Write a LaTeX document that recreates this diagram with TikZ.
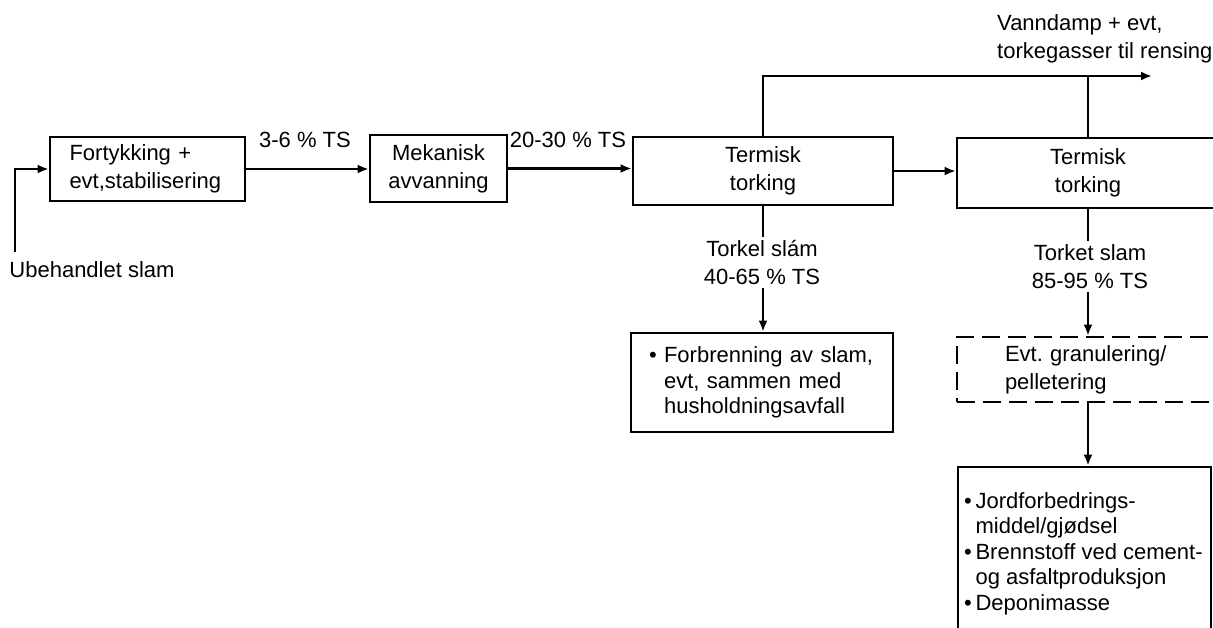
\documentclass[tikz,border=0pt]{standalone}
\usepackage{fontspec}
\setmainfont{Liberation Sans}
\usetikzlibrary{arrows.meta,calc}
\frenchspacing
\newcommand\lblfont{\fontsize{22}{28}\selectfont}
\newcommand\bulletfont{\fontsize{22}{25.5}\selectfont}
\begin{document}
\begin{tikzpicture}[x=1pt,y=-1pt,
  box/.style={draw,line width=2.7pt,inner sep=0pt,align=center,font=\lblfont},
  dbox/.style={box,dash pattern=on 18pt off 8pt},
  txt/.style={font=\lblfont,align=center,inner sep=3pt},
  conn/.style={line width=2.7pt},
  arr/.style={conn,-{Latex[length=11pt,width=9pt]}}]
\useasboundingbox (0,0) rectangle (1213,627);
\clip (0,0) rectangle (1213,627);
% boxes
\node[box,minimum width=195pt,minimum height=64pt,text width=156pt,align=left] (fort) at (147.5,169) {Fortykking +\\evt,stabilisering};
\node[box,minimum width=137pt,minimum height=67pt] (mek) at (438.5,168.5) {Mekanisk\\avvanning};
\node[box,minimum width=260pt,minimum height=68pt] (term1) at (763,171) {Termisk\\torking};
\node[box,minimum width=262pt,minimum height=70pt] (term2) at (1088,173) {Termisk\\torking};
\node[box,minimum width=262pt,minimum height=99pt,text width=226pt,align=left,font=\bulletfont] (forb) at (762,382.5)
  {\textbullet\ Forbrenning av slam,\\\hphantom{\textbullet\ }evt, sammen med\\\hphantom{\textbullet\ }husholdningsavfall};
\node[dbox,minimum width=262pt,minimum height=65pt,text width=166pt,align=left] (gran) at (1088,369.5)
  {Evt. granulering/\\pelletering};
\node[box,minimum width=253pt,minimum height=183pt] (jord) at (1084.5,558.5) {};
\node[anchor=north west,font=\bulletfont,align=left,inner sep=0pt] (jordtxt) at (964,492)
  {\textbullet\,Jordforbedrings-\\\hphantom{\textbullet\,}middel/gjødsel\\\textbullet\,Brennstoff ved cement-\\\hphantom{\textbullet\,}og asfaltproduksjon\\\textbullet\,Deponimasse};
% labels
\node[txt] (ts1) at (305,140) {3-6 \% TS};
\node[txt] (ts2) at (568,140) {20-30 \% TS};
\node[txt] (ubeh) at (92,270) {Ubehandlet slam};
\node[txt,align=left,anchor=west] (vann) at (994,39) {Vanndamp + evt,\\torkegasser til rensing};
\node[txt] (tork1) at (762,262.5) {Torkel slám\\40-65 \% TS};
\node[txt] (tork2) at (1090,266.5) {Torket slam\\85-95 \% TS};
% connectors
\coordinate (ustart) at (15,252);
\coordinate (vapor) at (1152,76);
\draw[arr] (ustart) |- (fort.west);
\draw[arr] (fort.east) -- (fort.east -| mek.west);
\draw[arr] (mek.east) -- (mek.east -| term1.west);
\draw[arr] (term1.east) -- (term1.east -| term2.west);
\draw[arr] (term1.north) |- (vapor);
\draw[conn] (term2.north) -- (term2.north |- vapor);
\draw[conn] (term1.south) -- (term1.south |- tork1.north);
\draw[arr] (tork1.south -| term1.south) -- (term1.south |- forb.north);
\draw[conn] (term2.south) -- (term2.south |- tork2.north);
\draw[arr] (tork2.south -| term2.south) -- (term2.south |- gran.north);
\draw[arr] (gran.south) -- (gran.south |- jord.north);
\end{tikzpicture}
\end{document}
